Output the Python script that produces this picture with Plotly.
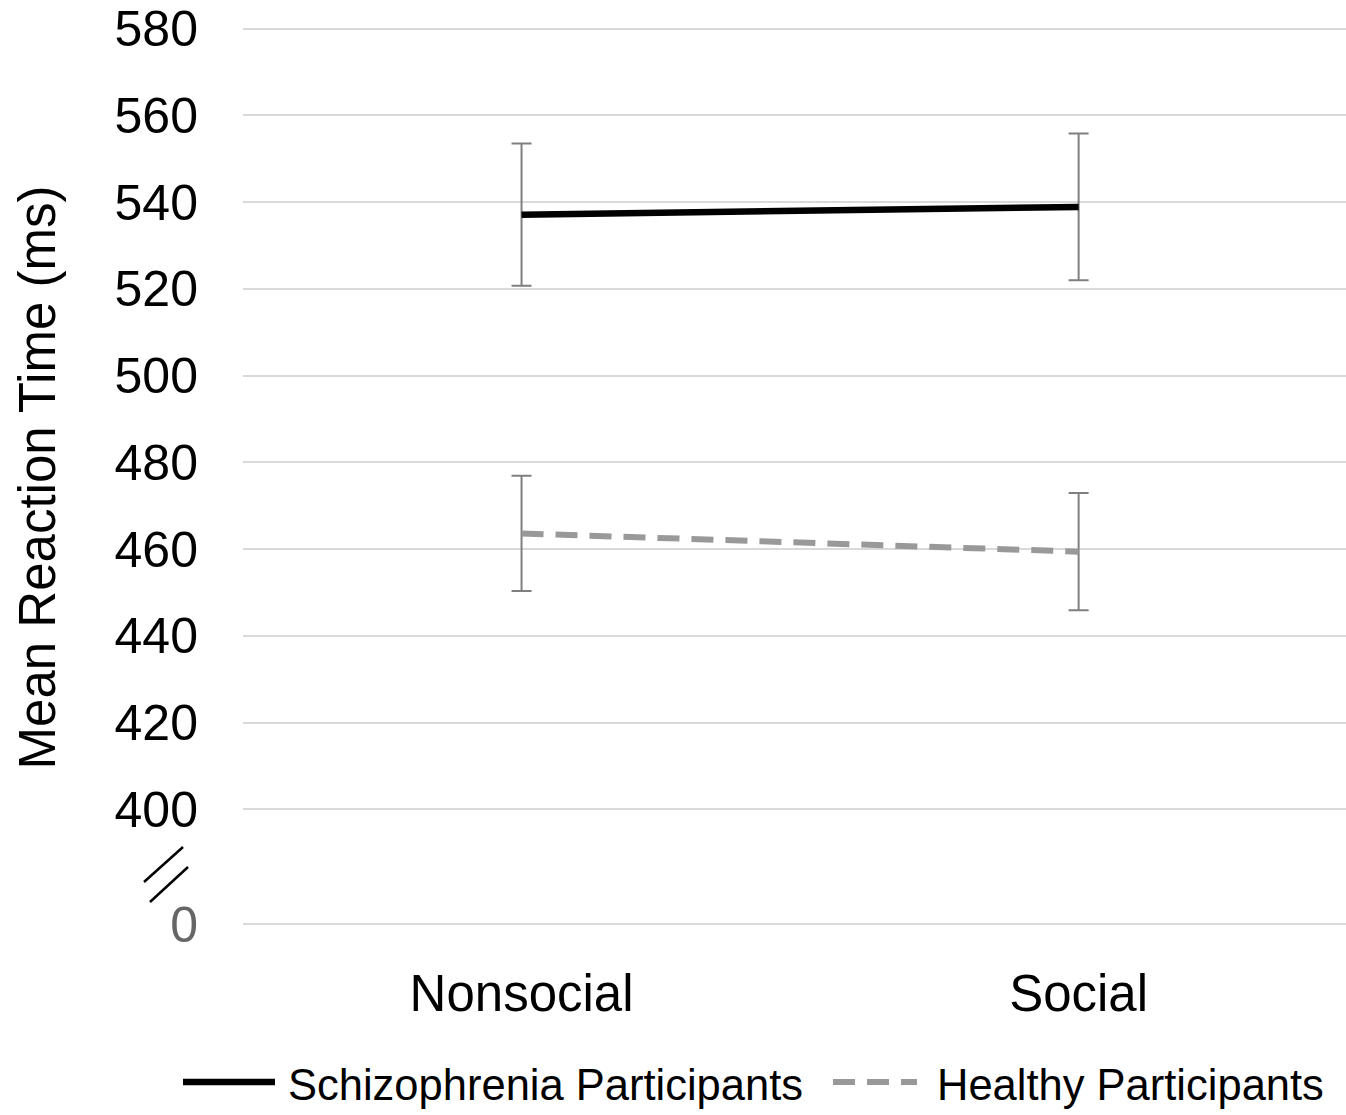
import plotly.graph_objects as go

categories = ["Nonsocial", "Social"]
schizo_mean = [537.1, 538.9]
schizo_err = [16.4, 16.9]
healthy_mean = [463.6, 459.4]
healthy_err = [13.3, 13.5]

tick_vals = [580, 560, 540, 520, 500, 480, 460, 440, 420, 400]
BREAK_POS = 373.5  # axis position where the "0" (broken axis) gridline sits
tick_labels = [str(v) for v in tick_vals]

W, H = 1346, 1115
ML, MR, MT, MB = 243, 0, 20, 180
FONT = "Liberation Sans, Arial, sans-serif"

fig = go.Figure()
fig.add_trace(go.Scatter(
    x=categories, y=schizo_mean, mode="lines", name="Schizophrenia Participants",
    line=dict(color="black", width=6.5),
    error_y=dict(type="data", array=schizo_err, color="#7f7f7f", thickness=2, width=10),
    showlegend=False))
fig.add_trace(go.Scatter(
    x=categories, y=healthy_mean, mode="lines", name="Healthy Participants",
    line=dict(color="#999999", width=6, dash="22px,12px"),
    error_y=dict(type="data", array=healthy_err, color="#7f7f7f", thickness=2, width=10),
    showlegend=False))

pw = W - ML - MR
ph = H - MT - MB
def px_x(p):
    return (p - ML) / pw
def px_y(p):
    return (H - MB - p) / ph

shapes = [
    # axis break marks
    dict(type="line", xref="paper", yref="paper", x0=px_x(144), y0=px_y(882), x1=px_x(183), y1=px_y(847),
         line=dict(color="black", width=2.5)),
    dict(type="line", xref="paper", yref="paper", x0=px_x(150), y0=px_y(902), x1=px_x(188), y1=px_y(867),
         line=dict(color="black", width=2.5)),
    # legend samples
    dict(type="line", xref="paper", yref="paper", x0=px_x(183), y0=px_y(1082), x1=px_x(275), y1=px_y(1082),
         line=dict(color="black", width=6.5)),
    dict(type="line", xref="paper", yref="paper", x0=px_x(833), y0=px_y(1082), x1=px_x(917), y1=px_y(1082),
         line=dict(color="#999999", width=6, dash="22px,12px")),
]
annotations = [
    dict(text="Schizophrenia Participants", xref="paper", yref="paper", x=px_x(286), y=px_y(1085),
         xanchor="left", yanchor="middle", showarrow=False, font=dict(family=FONT, size=43.5, color="black")),
    dict(text="Healthy Participants", xref="paper", yref="paper", x=px_x(935), y=px_y(1085),
         xanchor="left", yanchor="middle", showarrow=False, font=dict(family=FONT, size=43.5, color="black")),
]

fig.update_layout(
    width=W, height=H,
    margin=dict(l=ML, r=MR, t=MT, b=MB),
    plot_bgcolor="white", paper_bgcolor="white",
    font=dict(family=FONT, color="black"),
    shapes=shapes, annotations=annotations,
    showlegend=False,
)
fig.update_xaxes(
    range=[-0.5, 1.48], showgrid=False, zeroline=False, showline=False,
    tickfont=dict(size=51, family=FONT, color="black"), ticklabelstandoff=24,
)
fig.update_yaxes(
    range=[371, 582],
    tickvals=tick_vals + [BREAK_POS],
    ticktext=tick_labels + ["<span style='color:#666666'>0</span>"],
    showgrid=True, gridcolor="#d9d9d9", gridwidth=2, zeroline=False, showline=False,
    tickfont=dict(size=50, family=FONT, color="black"), ticklabelstandoff=44,
    ticklabeloverflow="allow",
    title=dict(text="Mean Reaction Time (ms)", font=dict(size=51, family=FONT, color="black"), standoff=42),
    automargin=False,
)
fig.write_html("out.html", config={"displayModeBar": False},
               post_script="document.body.style.margin='0';document.body.style.overflow='hidden';")
